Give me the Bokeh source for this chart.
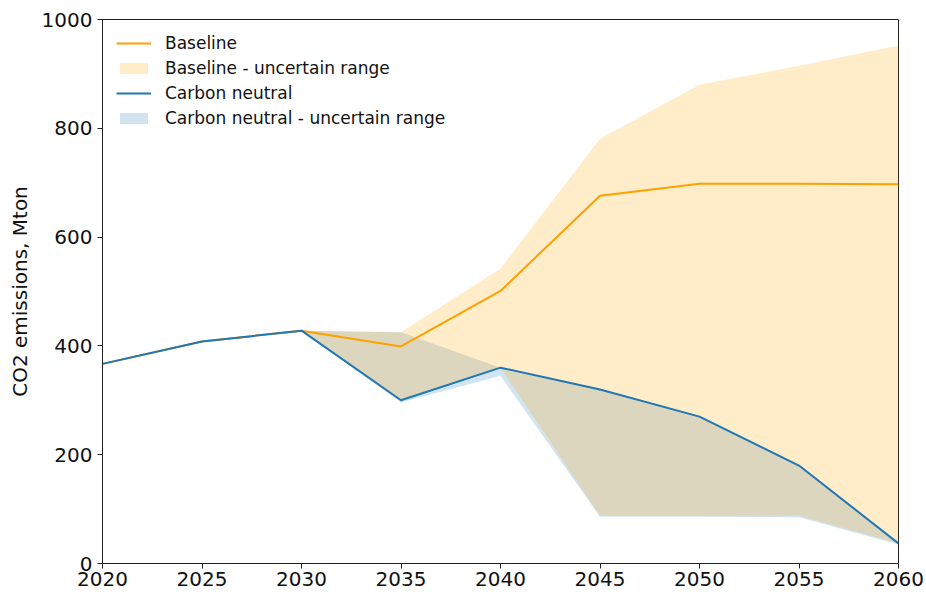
from bokeh.plotting import figure
from bokeh.models import Range1d, FixedTicker, Legend, LegendItem, ColumnDataSource
from bokeh.embed import file_html
from bokeh.resources import INLINE

# CO2 emission pathways, Mton
years = [2020, 2025, 2030, 2035, 2040, 2045, 2050, 2055, 2060]

baseline = [367, 408, 428, 399, 501, 676, 698, 698, 697]
baseline_low = [367, 408, 428, 300, 360, 88, 88, 88, 37]
baseline_high = [367, 408, 428, 425, 542, 781, 880, 915, 952]

carbon_neutral = [367, 408, 428, 300, 360, 320, 270, 180, 37]
carbon_neutral_low = [367, 408, 428, 296, 345, 86, 86, 85, 35]
carbon_neutral_high = [367, 408, 428, 425, 360, 320, 270, 180, 37]

x_ticks = [2020, 2025, 2030, 2035, 2040, 2045, 2050, 2055, 2060]
y_ticks = [0, 200, 400, 600, 800, 1000]

FONT = "DejaVu Sans"
ORANGE = "#ffa000"
BLUE = "#1f77b4"

src = ColumnDataSource(dict(
    x=years,
    base=baseline, base_lo=baseline_low, base_hi=baseline_high,
    cn=carbon_neutral, cn_lo=carbon_neutral_low, cn_hi=carbon_neutral_high,
))

p = figure(
    width=926, height=592,
    output_backend="svg", toolbar_location=None,
    x_range=Range1d(2020, 2060), y_range=Range1d(0, 1000),
    min_border_left=102, min_border_right=28,
    min_border_top=19, min_border_bottom=29,
)
p.grid.visible = False
p.outline_line_color = "#222222"
p.outline_line_width = 1

# shaded uncertainty bands
cn_band = p.varea(x="x", y1="cn_lo", y2="cn_hi", source=src,
                  fill_color=BLUE, fill_alpha=0.2)
base_band = p.varea(x="x", y1="base_lo", y2="base_hi", source=src,
                    fill_color="#ffa500", fill_alpha=0.21)

base_line = p.line(x="x", y="base", source=src, line_color=ORANGE, line_width=2)
cn_line = p.line(x="x", y="cn", source=src, line_color=BLUE, line_width=2)

legend = Legend(items=[
    LegendItem(label="Baseline", renderers=[base_line]),
    LegendItem(label="Baseline - uncertain range", renderers=[base_band]),
    LegendItem(label="Carbon neutral", renderers=[cn_line]),
    LegendItem(label="Carbon neutral - uncertain range", renderers=[cn_band]),
])
legend.location = "top_left"
legend.margin = 0
legend.padding = 14
legend.spacing = 5
legend.glyph_width = 35
legend.glyph_height = 14
legend.label_standoff = 14
legend.label_text_font = FONT
legend.label_text_font_size = "17px"
legend.label_text_color = "#111111"
legend.background_fill_alpha = 0
legend.border_line_alpha = 0
p.add_layout(legend)

for ax in (p.xaxis[0], p.yaxis[0]):
    ax.major_label_text_font = FONT
    ax.major_label_text_font_size = "20px"
    ax.major_label_text_color = "#111111"
    ax.axis_line_color = "#222222"
    ax.major_tick_line_color = "#222222"
    ax.major_tick_in = 0
    ax.major_tick_out = 5
    ax.minor_tick_line_color = None

p.xaxis[0].ticker = FixedTicker(ticks=x_ticks)
p.yaxis[0].ticker = FixedTicker(ticks=y_ticks)
p.xaxis[0].major_label_standoff = 3
p.yaxis[0].major_label_standoff = 5

p.yaxis[0].axis_label = "CO2 emissions, Mton"
p.yaxis[0].axis_label_text_font = FONT
p.yaxis[0].axis_label_text_font_size = "20px"
p.yaxis[0].axis_label_text_font_style = "normal"
p.yaxis[0].axis_label_text_color = "#111111"
p.yaxis[0].axis_label_standoff = 7

open("out.html", "w").write(file_html(p, INLINE))
